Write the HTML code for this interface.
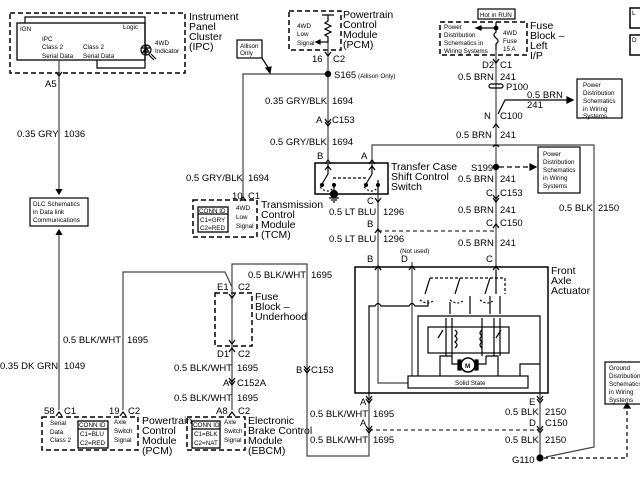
<!DOCTYPE html>
<html><head><meta charset="utf-8"><style>
html,body{margin:0;padding:0;background:#fff}
svg{display:block}
text{font-family:"Liberation Sans",sans-serif;fill:#000}
.w{font-size:9.5px}
.s{font-size:6.3px}
.t{font-size:10.5px}
</style></head><body>
<svg width="640" height="480" viewBox="0 0 640 480" xmlns="http://www.w3.org/2000/svg">
<rect width="640" height="480" fill="#fff"/>
<g fill="none" stroke="#000" stroke-width="1.2">
<rect x="10" y="13" width="175" height="60" stroke-dasharray="5,3" stroke-width="1.5"/>
<rect x="17" y="23" width="128" height="37" stroke-width="1.3"/>
<polyline points="25,23 25,17 145,17 145,44"/>
<polyline points="145,56 145,68 97,68 97,60"/>
<circle cx="146" cy="50" r="5"/>
<path d="M141,48 h10 M146,48 l-3,4 h6 z M146,45 v10"/>
<path d="M149,55 l5,5 M151,54 l5,5"/>
<line x1="59" y1="60" x2="59" y2="193" stroke="#444"/>
<path d="M56,72 l3,4 l3,-4" />
<path d="M56,189 l3,5 l3,-5" fill="#000"/>
<rect x="30" y="198" width="58" height="28"/>
<line x1="59" y1="231" x2="59" y2="410" stroke="#444"/>
<path d="M56,235 l3,-5 l3,5" fill="#000"/>
<path d="M56,416 l3,-4 l3,4"/>
<rect x="42" y="417" width="96" height="33" stroke-dasharray="5,3" stroke-width="1.5"/>
<rect x="78" y="421" width="30" height="27" stroke-width="1.3"/>
<line x1="78" y1="429" x2="108" y2="429"/>
<polyline points="123,410 123,272 225,272 232,287" stroke="#444"/>
<path d="M120,416 l3,-4 l3,4"/>
<rect x="215" y="293" width="37" height="53" stroke-dasharray="5,3" stroke-width="1.5"/>
<line x1="232" y1="290" x2="232" y2="410" stroke="#444"/>
<path d="M229,294 l3,4 l3,-4 M229,340 l3,4 l3,-4 M229,352 l3,-4 l3,4 M229,378 l3,4 l3,-4 M229,381 l3,4 l3,-4 M229,416 l3,-4 l3,4"/>
<rect x="187" y="417" width="58" height="33" stroke-dasharray="5,3" stroke-width="1.5"/>
<rect x="192" y="421" width="28" height="27" stroke-width="1.3"/>
<line x1="192" y1="429" x2="220" y2="429"/>
<polyline points="232,290 232,264 307,264 307,456 369,456 369,395" stroke="#444"/>
<path d="M304,366 l3,4 l3,-4 M304,369 l3,4 l3,-4"/>
<rect x="193" y="200" width="64" height="37" stroke-dasharray="5,3" stroke-width="1.5"/>
<rect x="198" y="207" width="30" height="25" stroke-width="1.3"/>
<line x1="198" y1="214" x2="228" y2="214"/>
<polyline points="243,197 243,74 328,74" stroke="#444"/>
<path d="M240,201 l3,-4 l3,4"/>
<rect x="237" y="40" width="25" height="18"/>
<line x1="262" y1="58" x2="269" y2="69"/>
<path d="M266,68 l4,5 l1,-6 z" fill="#000"/>
<rect x="289" y="11" width="52" height="39" stroke-dasharray="5,3" stroke-width="1.5"/>
<path d="M322,15 h12 M328,15 v6 l-3,2 l6,3 l-6,3 l6,3 l-6,3 l3,2 v6"/>
<line x1="328" y1="42" x2="328" y2="160" stroke="#444"/>
<line x1="316" y1="42" x2="328" y2="42"/>
<path d="M320,40 l-4,2 l4,2 z" fill="#000"/>
<path d="M325,52 l3,4 l3,-4 M325,119 l3,4 l3,-4 M325,122 l3,4 l3,-4 M325,164 l3,-4 l3,4"/>
<circle cx="328" cy="74" r="2.6" fill="#000"/>
<rect x="315" y="163" width="73" height="31" stroke-width="1.5"/>
<polyline points="372,164 372,145 594,145 594,447 546,457" stroke="#444"/>
<path d="M369,164 l3,-4 l3,4"/>
<path d="M328,164 v10 l-6,10 M372,164 v10 l-6,10"/>
<path d="M333,178 h33" stroke-dasharray="3,2"/>
<path d="M320,187 q8,8 14,0 M364,187 q8,8 14,0" stroke-dasharray="2,2"/>
<circle cx="322" cy="185" r="1.5" fill="#000"/><circle cx="334" cy="185" r="1.5" fill="#000"/>
<circle cx="366" cy="185" r="1.5" fill="#000"/><circle cx="378" cy="185" r="1.5" fill="#000"/>
<path d="M334,185 v9 M378,180 v14"/>
<circle cx="334" cy="194" r="3.5" fill="#000"/>
<path d="M329,198 h10 M331,200 h6 M333,202 h2"/>
<line x1="378" y1="194" x2="378" y2="270" stroke="#444"/>
<path d="M375,198 l3,4 l3,-4 M375,233 l3,-4 l3,4 M375,270 l3,-4 l3,4 M325,170 l3,-4 l3,4 M369,170 l3,-4 l3,4"/>
<line x1="378" y1="231" x2="496" y2="231" stroke-dasharray="4,3" stroke-width="1"/>
<rect x="478" y="9" width="37" height="10"/>
<rect x="440" y="22" width="87" height="33" stroke-dasharray="5,3" stroke-width="1.5"/>
<line x1="477" y1="28" x2="496" y2="28"/>
<path d="M481,26 l-5,2 l5,2 z" fill="#000"/>
<circle cx="496" cy="28" r="1.8" fill="#000"/>
<path d="M496,22 v10 q-4,3 0,6 q4,3 0,6 v6" />
<line x1="496" y1="50" x2="496" y2="270" stroke="#444"/>
<path d="M493,59 l3,4 l3,-4 M493,128 l3,-4 l3,4 M493,195 l3,4 l3,-4 M493,198 l3,4 l3,-4 M493,228 l3,-4 l3,4 M493,270 l3,-4 l3,4"/>
<rect x="489" y="84" width="14" height="4" rx="2"/>
<polyline points="498,114 505,100 571,100"/>
<path d="M567,97 l6,3 l-6,3 z" fill="#000"/>
<rect x="577" y="79" width="45" height="39"/>
<circle cx="496" cy="167" r="2.6" fill="#000"/>
<line x1="499" y1="167" x2="531" y2="167" stroke-dasharray="5,3"/>
<path d="M530,164 l6,3 l-6,3 z" fill="#000"/>
<rect x="538" y="147" width="42" height="46"/>
<path d="M493,147 q3,-4 6,0"/>
<rect x="355" y="267" width="193" height="126" stroke-width="1.5"/>
<line x1="412" y1="262" x2="412" y2="376" stroke="#444"/>
<path d="M409,270 l3,-4 l3,4"/>
<path d="M375,270 l3,-4 l3,4"/>
<polyline points="378,270 378,383 408,383" stroke="#444"/>
<path d="M369,395 V306 H375 q3,-5 6,0 H409 q3,-5 6,0 H428 V300"/>
<rect x="408" y="376" width="120" height="12"/>
<rect x="428" y="327" width="81" height="26"/>
<polyline points="418,376 418,316 540,316 540,395"/>
<polyline points="520,376 520,364 540,364"/>
<polyline points="440,376 440,356 452,356"/>
<polyline points="498,376 498,356 486,356"/>
<path d="M496,270 v24 M425,294 l5,-16 M455,294 l5,-16 M485,294 l5,-16" />
<path d="M430,278 h75 v16" stroke-dasharray="3,2"/>
<path d="M420,300 q8,6 14,0 M450,300 q8,6 14,0 M480,300 q8,6 14,0" stroke-dasharray="2,2"/>
<path d="M450,302 v12 M470,296 v18 M490,296 v18 M500,296 v18"/>
<path d="M446,318 v38 M452,318 v38 M482,318 v38 M494,318 v38 M500,318 v38"/>
<path d="M438,338 l5,-8 M496,338 l5,-8"/>
<path d="M455,330 q4,3 0,6 q4,3 0,6 q4,3 0,6 M482,330 q-4,3 0,6 q-4,3 0,6 q-4,3 0,6"/>
<polyline points="452,356 452,364 460,364"/>
<polyline points="476,364 486,364 486,356"/>
<circle cx="468" cy="365" r="7" fill="#fff" stroke-width="1.5"/>
<rect x="458" y="360" width="3" height="10" fill="#000"/>
<rect x="475" y="360" width="3" height="10" fill="#000"/>
<path d="M366,396 l3,4 l3,-4 M366,399 l3,4 l3,-4 M366,426 l3,4 l3,-4 M366,429 l3,4 l3,-4"/>
<path d="M537,396 l3,4 l3,-4 M537,399 l3,4 l3,-4 M537,426 l3,4 l3,-4 M537,429 l3,4 l3,-4"/>
<line x1="369" y1="430" x2="540" y2="430" stroke-dasharray="4,3" stroke-width="1"/>
<line x1="540" y1="393" x2="540" y2="460" stroke="#444"/>
<circle cx="540" cy="458" r="3" fill="#000"/>
<polyline points="544,458 627,458 627,406" stroke-dasharray="4,3"/>
<path d="M624,408 l3,-5 l3,5 z" fill="#000"/>
<rect x="605" y="362" width="40" height="42"/>
<rect x="630" y="8" width="14" height="20" stroke-width="1.5"/>
<rect x="630" y="35" width="14" height="20" stroke-width="1.5"/>
</g>
<text x="20" y="31" class="s">IGN</text>
<text x="123" y="29" class="s">Logic</text>
<text x="42" y="41" class="s">IPC</text>
<text x="42" y="49" class="s">Class 2</text>
<text x="42" y="58" class="s">Serial Data</text>
<text x="83" y="49" class="s">Class 2</text>
<text x="83" y="58" class="s">Serial Data</text>
<text x="155" y="45" class="s">4WD</text>
<text x="155" y="53" class="s">Indicator</text>
<text x="189" y="20" class="t">Instrument</text>
<text x="189" y="30" class="t">Panel</text>
<text x="189" y="40" class="t">Cluster</text>
<text x="189" y="50" class="t">(IPC)</text>
<text x="45" y="87" class="w">A5</text>
<text x="17" y="137" class="w">0.35 GRY</text>
<text x="64" y="137" class="w">1036</text>
<text x="33" y="206" class="s">DLC Schematics</text>
<text x="33" y="214" class="s">in Data link</text>
<text x="33" y="222" class="s">Communications</text>
<text x="0" y="369" class="w">0.35 DK GRN</text>
<text x="64" y="369" class="w">1049</text>
<text x="44" y="414" class="w">58</text>
<text x="64" y="414" class="w">C1</text>
<text x="50" y="425" class="s">Serial</text>
<text x="50" y="434" class="s">Data</text>
<text x="50" y="442" class="s">Class 2</text>
<text x="79" y="427" class="s">CONN ID</text>
<text x="80" y="436" class="s">C1=BLU</text>
<text x="80" y="445" class="s">C2=RED</text>
<text x="114" y="424" class="s">Axle</text>
<text x="114" y="433" class="s">Switch</text>
<text x="114" y="442" class="s">Signal</text>
<text x="142" y="424" class="t">Powertrain</text>
<text x="142" y="434" class="t">Control</text>
<text x="142" y="444" class="t">Module</text>
<text x="142" y="454" class="t">(PCM)</text>
<text x="63" y="343" class="w">0.5 BLK/WHT</text>
<text x="127" y="343" class="w">1695</text>
<text x="109" y="414" class="w">19</text>
<text x="128" y="414" class="w">C2</text>
<text x="217" y="290" class="w">E1</text>
<text x="238" y="290" class="w">C2</text>
<text x="255" y="300" class="t">Fuse</text>
<text x="255" y="310" class="t">Block –</text>
<text x="255" y="320" class="t">Underhood</text>
<text x="217" y="357" class="w">D1</text>
<text x="238" y="357" class="w">C2</text>
<text x="174" y="371" class="w">0.5 BLK/WHT</text>
<text x="237" y="371" class="w">1695</text>
<text x="223" y="386" class="w">A</text>
<text x="237" y="386" class="w">C152A</text>
<text x="174" y="401" class="w">0.5 BLK/WHT</text>
<text x="237" y="401" class="w">1695</text>
<text x="216" y="414" class="w">A8</text>
<text x="238" y="414" class="w">C2</text>
<text x="193" y="427" class="s">CONN ID</text>
<text x="194" y="436" class="s">C1=BLK</text>
<text x="194" y="445" class="s">C2=NAT</text>
<text x="224" y="424" class="s">Axle</text>
<text x="224" y="433" class="s">Switch</text>
<text x="224" y="442" class="s">Signal</text>
<text x="248" y="424" class="t">Electronic</text>
<text x="248" y="434" class="t">Brake Control</text>
<text x="248" y="444" class="t">Module</text>
<text x="248" y="454" class="t">(EBCM)</text>
<text x="248" y="278" class="w">0.5 BLK/WHT</text>
<text x="311" y="278" class="w">1695</text>
<text x="296" y="373" class="w">B</text>
<text x="311" y="373" class="w">C153</text>
<text x="240" y="48" class="s">Allison</text>
<text x="240" y="55" class="s">Only</text>
<text x="186" y="181" class="w">0.5 GRY/BLK</text>
<text x="248" y="181" class="w">1694</text>
<text x="232" y="199" class="w">10</text>
<text x="248" y="199" class="w">C1</text>
<text x="199" y="213" class="s">CONN ID</text>
<text x="200" y="222" class="s">C1=GRY</text>
<text x="200" y="230" class="s">C2=RED</text>
<text x="236" y="210" class="s">4WD</text>
<text x="236" y="219" class="s">Low</text>
<text x="236" y="228" class="s">Signal</text>
<text x="261" y="208" class="t">Transmission</text>
<text x="261" y="218" class="t">Control</text>
<text x="261" y="228" class="t">Module</text>
<text x="261" y="238" class="t">(TCM)</text>
<text x="297" y="28" class="s">4WD</text>
<text x="297" y="36" class="s">Low</text>
<text x="297" y="45" class="s">Signal</text>
<text x="343" y="18" class="t">Powertrain</text>
<text x="343" y="28" class="t">Control</text>
<text x="343" y="38" class="t">Module</text>
<text x="343" y="48" class="t">(PCM)</text>
<text x="312" y="62" class="w">16</text>
<text x="333" y="62" class="w">C2</text>
<text x="334" y="78" class="w">S165</text>
<text x="358" y="78" class="s">(Allison Only)</text>
<text x="265" y="104" class="w">0.35 GRY/BLK</text>
<text x="332" y="104" class="w">1694</text>
<text x="316" y="123" class="w">A</text>
<text x="332" y="123" class="w">C153</text>
<text x="270" y="145" class="w">0.5 GRY/BLK</text>
<text x="332" y="145" class="w">1694</text>
<text x="317" y="159" class="w">B</text>
<text x="361" y="159" class="w">A</text>
<text x="391" y="170" class="t">Transfer Case</text>
<text x="391" y="180" class="t">Shift Control</text>
<text x="391" y="190" class="t">Switch</text>
<text x="367" y="204" class="w">C</text>
<text x="329" y="215" class="w">0.5 LT BLU</text>
<text x="383" y="215" class="w">1296</text>
<text x="367" y="227" class="w">B</text>
<text x="329" y="242" class="w">0.5 LT BLU</text>
<text x="383" y="242" class="w">1296</text>
<text x="400" y="253" class="s">(Not used)</text>
<text x="367" y="262" class="w">B</text>
<text x="401" y="262" class="w">D</text>
<text x="486" y="262" class="w">C</text>
<text x="480" y="17" class="s">Hot in RUN</text>
<text x="444" y="29" class="s">Power</text>
<text x="444" y="37" class="s">Distribution</text>
<text x="444" y="45" class="s">Schematics in</text>
<text x="444" y="53" class="s">Wiring Systems</text>
<text x="503" y="35" class="s">4WD</text>
<text x="503" y="43" class="s">Fuse</text>
<text x="503" y="51" class="s">15 A</text>
<text x="530" y="29" class="t">Fuse</text>
<text x="530" y="39" class="t">Block –</text>
<text x="530" y="49" class="t">Left</text>
<text x="530" y="59" class="t">I/P</text>
<text x="482" y="68" class="w">D2</text>
<text x="500" y="68" class="w">C1</text>
<text x="458" y="80" class="w">0.5 BRN</text>
<text x="500" y="80" class="w">241</text>
<text x="506" y="90" class="w">P100</text>
<text x="527" y="98" class="w">0.5 BRN</text>
<text x="527" y="108" class="w">241</text>
<text x="583" y="87" class="s">Power</text>
<text x="583" y="95" class="s">Distribution</text>
<text x="583" y="103" class="s">Schematics</text>
<text x="583" y="111" class="s">in Wiring</text>
<text x="583" y="118" class="s">Systems</text>
<text x="484" y="119" class="w">N</text>
<text x="500" y="119" class="w">C100</text>
<text x="456" y="138" class="w">0.5 BRN</text>
<text x="500" y="138" class="w">241</text>
<text x="471" y="171" class="w">S199</text>
<text x="543" y="156" class="s">Power</text>
<text x="543" y="164" class="s">Distribution</text>
<text x="543" y="172" class="s">Schematics</text>
<text x="543" y="180" class="s">in Wiring</text>
<text x="543" y="188" class="s">Systems</text>
<text x="458" y="182" class="w">0.5 BRN</text>
<text x="500" y="182" class="w">241</text>
<text x="486" y="196" class="w">C</text>
<text x="500" y="196" class="w">C153</text>
<text x="458" y="213" class="w">0.5 BRN</text>
<text x="500" y="213" class="w">241</text>
<text x="486" y="226" class="w">C</text>
<text x="500" y="226" class="w">C150</text>
<text x="458" y="246" class="w">0.5 BRN</text>
<text x="500" y="246" class="w">241</text>
<text x="559" y="211" class="w">0.5 BLK</text>
<text x="598" y="211" class="w">2150</text>
<text x="551" y="274" class="t">Front</text>
<text x="551" y="284" class="t">Axle</text>
<text x="551" y="294" class="t">Actuator</text>
<text x="455" y="385" class="s">Solid State</text>
<text x="465" y="368" class="s" font-weight="bold">M</text>
<text x="360" y="405" class="w">A</text>
<text x="310" y="417" class="w">0.5 BLK/WHT</text>
<text x="373" y="417" class="w">1695</text>
<text x="360" y="426" class="w">A</text>
<text x="310" y="443" class="w">0.5 BLK/WHT</text>
<text x="373" y="443" class="w">1695</text>
<text x="529" y="405" class="w">E</text>
<text x="505" y="415" class="w">0.5 BLK</text>
<text x="545" y="415" class="w">2150</text>
<text x="529" y="426" class="w">D</text>
<text x="545" y="426" class="w">C150</text>
<text x="505" y="443" class="w">0.5 BLK</text>
<text x="545" y="443" class="w">2150</text>
<text x="512" y="463" class="w">G110</text>
<text x="609" y="370" class="s">Ground</text>
<text x="609" y="378" class="s">Distribution</text>
<text x="609" y="386" class="s">Schematics</text>
<text x="609" y="394" class="s">in Wiring</text>
<text x="609" y="402" class="s">Systems</text>
<text x="632" y="15" class="s">L</text>
<text x="632" y="42" class="s">D</text>
</svg>
</body></html>
